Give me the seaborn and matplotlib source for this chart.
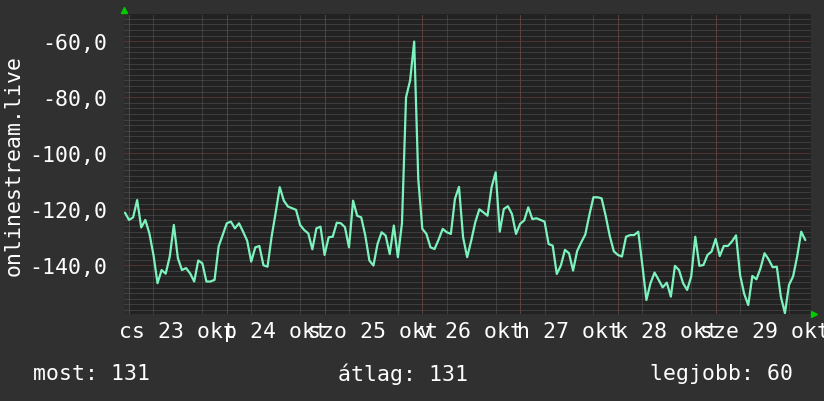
import matplotlib
matplotlib.use("Agg")
import matplotlib.pyplot as plt
import matplotlib.dates as mdates
import seaborn as sns
import pandas as pd
import numpy as np

# ---------------- data ----------------
start_time = "2025-10-22 23:00"
values = [
    -121.2,
    -123.8, -122.9, -116.7, -126.5, -123.8, -128.6, -136.3, -146.4, -141.7, -143.0,
    -136.9, -125.6, -137.5, -141.7, -141.0, -142.9, -145.8, -138.3, -139.3, -145.8,
    -145.8, -145.2, -133.3, -129.2, -125.0, -124.4, -126.8, -125.0, -128.0, -131.2,
    -138.7, -133.6, -133.1, -140.0, -140.5, -129.8, -121.2, -112.1, -116.9, -119.0,
    -119.6, -120.2, -125.6, -127.4, -128.6, -134.3, -126.8, -126.2, -136.3, -130.0,
    -129.8, -124.8, -125.0, -126.4, -133.6, -116.9, -122.3, -122.9, -129.4, -138.3,
    -140.1, -132.4, -128.2, -129.4, -136.0, -125.8, -137.1, -125.0, -80.0, -74.0,
    -60.1, -109.2, -127.0, -128.8, -133.6, -134.2, -130.8, -127.0, -128.2, -128.8,
    -116.3, -112.0, -130.0, -137.1, -131.2, -124.6, -120.0, -121.1, -122.3, -112.1,
    -106.8, -128.0, -119.9, -118.9, -121.7, -128.8, -125.2, -124.0, -119.3, -123.5,
    -123.2, -123.8, -124.4, -132.4, -133.0, -143.1, -140.1, -134.5, -135.7, -141.9,
    -134.9, -131.8, -129.0, -122.0, -115.7, -115.7, -116.1, -122.3, -129.5, -135.0,
    -136.3, -136.9, -129.8, -129.2, -129.2, -128.0, -139.9, -152.4, -146.4, -142.6,
    -145.2, -147.9, -146.2, -151.2, -140.2, -141.7, -146.4, -148.8, -144.0, -129.8,
    -140.2, -139.9, -136.3, -135.1, -130.6, -136.7, -133.1, -133.1, -131.5, -129.3,
    -143.5, -150.2, -154.2, -143.8, -145.0, -141.1, -135.7, -137.9, -140.7, -140.5,
    -151.2, -157.1, -147.0, -144.0, -136.9, -128.0, -131.0,
]
day_starts = ["2025-10-23", "2025-10-24", "2025-10-25", "2025-10-26",
              "2025-10-27", "2025-10-28", "2025-10-29"]
weekday_abbr = ["h", "k", "sze", "cs", "p", "szo", "v"]  # Mon..Sun
month_abbr = "okt"
y_major = [-140, -120, -100, -80, -60]
ylabel_text = "onlinestream.live"
legend_texts = ["most: 131", "átlag: 131", "legjobb: 60"]

# ---------------- style ----------------
BG = "#303030"
PLOT_BG = "#222222"
LINE = "#7cf2bd"
MINOR = "#585858"
MAJOR = "#7a4040"
ARROW = "#00cc00"
FS = 15.5

sns.set_theme(style="dark")
plt.rcParams["font.family"] = ["DejaVu Sans Mono", "DejaVu Sans"]

W, H = 824, 402
fig = plt.figure(figsize=(W / 100, H / 100), dpi=100, facecolor=BG)
ax = fig.add_axes([124 / W, 1 - 315 / H, 687 / W, 300 / H])
ax.set_facecolor(PLOT_BG)

times = pd.date_range(start_time, periods=len(values), freq="h")
df = pd.DataFrame({"time": times, "value": values})

t0 = pd.Timestamp(day_starts[0])
ax.set_xlim(t0 - pd.Timedelta(hours=1.23), t0 + pd.Timedelta(hours=167.4))
ax.set_ylim(-157.4, -50.25)

# subtle lighter band along the left axis
ax.axvspan(t0 - pd.Timedelta(hours=1.23), t0 - pd.Timedelta(hours=0.05),
           color="#2b2b2b", lw=0, zorder=0)

# grid: minor gray, major red (dotted)
ax.set_yticks(y_major)
ax.set_yticks(np.arange(-156, -50, 2), minor=True)
ax.set_yticklabels([f"{v:.1f}".replace(".", ",") for v in y_major])
ax.xaxis.set_minor_locator(mdates.HourLocator(byhour=[0, 6, 12, 18]))
noons = pd.to_datetime(day_starts) + pd.Timedelta(hours=12)
ax.set_xticks(noons)
ax.set_xticklabels([f"{weekday_abbr[d.weekday()]} {d.day} {month_abbr}" for d in noons])

dots = (0, (1, 1))
ax.grid(False)
ax.yaxis.grid(True, which="minor", color=MINOR, lw=0.72, ls=dots, zorder=0.5)
ax.xaxis.grid(True, which="minor", color=MINOR, lw=0.72, ls=dots, zorder=0.5)
for v in y_major:
    ax.axhline(v, color=MAJOR, lw=0.72, ls=dots, zorder=1)
for d in pd.to_datetime(day_starts):
    ax.axvline(d, color=MAJOR, lw=0.72, ls=dots, zorder=1)

sns.lineplot(data=df, x="time", y="value", ax=ax, color=LINE, lw=1.6, zorder=3)

ax.set_xlabel("")
ax.set_ylabel("")
fig.text(14 / W, 1 - 165 / H, ylabel_text, color="white", fontsize=FS,
         rotation=90, ha="center", va="center")

ax.tick_params(axis="both", which="both", length=0, colors="white", labelsize=FS)
ax.tick_params(axis="y", pad=12)
ax.tick_params(axis="x", pad=5)
for s in ax.spines.values():
    s.set_visible(False)

# arrows at axis ends
ax.plot([0], [1.015], marker="^", ms=5, color=ARROW, mec=ARROW,
        transform=ax.transAxes, clip_on=False, zorder=5)
ax.plot([1.004], [0], marker=">", ms=5, color=ARROW, mec=ARROW,
        transform=ax.transAxes, clip_on=False, zorder=5)

# legend line
for txt, xpx in zip(legend_texts, [33, 338, 650]):
    fig.text(xpx / W, 1 - 374 / H, txt, color="white", fontsize=FS,
             ha="left", va="center")

fig.savefig("out.png", dpi=100, facecolor=BG)
